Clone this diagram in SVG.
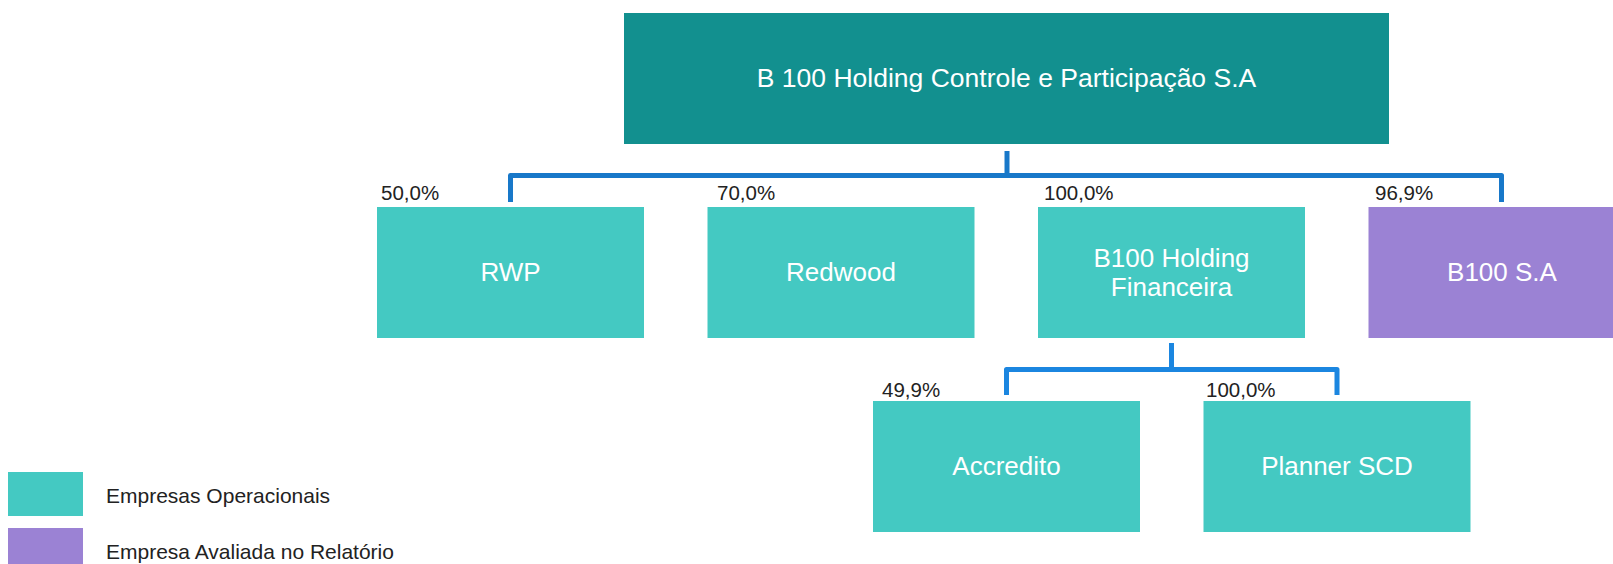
<svg xmlns="http://www.w3.org/2000/svg" width="1613" height="564" viewBox="0 0 1613 564">
<style>
.lbl{font-family:"Liberation Sans",Arial,sans-serif;fill:#ffffff;text-anchor:middle}
.pct{font-family:"Liberation Sans",Arial,sans-serif;fill:#222222;font-size:20.5px}
.leg{font-family:"Liberation Sans",Arial,sans-serif;fill:#222222;font-size:21px}
.op{fill:#44C9C2}
.ev{fill:#9B82D4}
.c1{fill:none;stroke:#1878C9;stroke-width:5;stroke-linejoin:round}
.c2{fill:none;stroke:#1B86E0;stroke-width:5;stroke-linejoin:round}
</style>
<rect width="1613" height="564" fill="#ffffff"/>
<g id="connectors">
<path class="c1" d="M1007,151 V175.5"/>
<path class="c1" d="M510.5,202 V175.5 H1501.5 V202"/>
<path class="c2" d="M1171.5,343 V369.5"/>
<path class="c2" d="M1006.5,395 V369.5 H1337 V395"/>
</g>
<g id="holding">
<rect x="624" y="13" width="765" height="131" fill="#12908F"/>
<text class="lbl" x="1006.5" y="87" font-size="26.5">B 100 Holding Controle e Participação S.A</text>
</g>
<g id="rwp">
<rect class="op" x="377" y="207" width="267" height="131"/>
<text class="lbl" x="510.5" y="281" font-size="26">RWP</text>
<text class="pct" x="381" y="200">50,0%</text>
</g>
<g id="redwood">
<rect class="op" x="707.5" y="207" width="267" height="131"/>
<text class="lbl" x="841" y="281" font-size="26">Redwood</text>
<text class="pct" x="717" y="200">70,0%</text>
</g>
<g id="b100hf">
<rect class="op" x="1038" y="207" width="267" height="131"/>
<text class="lbl" x="1171.5" y="267" font-size="26">B100 Holding</text>
<text class="lbl" x="1171.5" y="296" font-size="26">Financeira</text>
<text class="pct" x="1044" y="200">100,0%</text>
</g>
<g id="b100sa">
<rect class="ev" x="1368.5" y="207" width="267" height="131"/>
<text class="lbl" x="1502" y="281" font-size="26">B100 S.A</text>
<text class="pct" x="1375" y="200">96,9%</text>
</g>
<g id="accredito">
<rect class="op" x="873" y="401" width="267" height="131"/>
<text class="lbl" x="1006.5" y="475" font-size="26">Accredito</text>
<text class="pct" x="882" y="397">49,9%</text>
</g>
<g id="planner">
<rect class="op" x="1203.5" y="401" width="267" height="131"/>
<text class="lbl" x="1337" y="475" font-size="26">Planner SCD</text>
<text class="pct" x="1206" y="397">100,0%</text>
</g>
<g id="legend">
<rect class="op" x="8" y="472" width="75" height="44"/>
<text class="leg" x="106" y="503">Empresas Operacionais</text>
<rect class="ev" x="8" y="528" width="75" height="44"/>
<text class="leg" x="106" y="559">Empresa Avaliada no Relatório</text>
</g>
</svg>
